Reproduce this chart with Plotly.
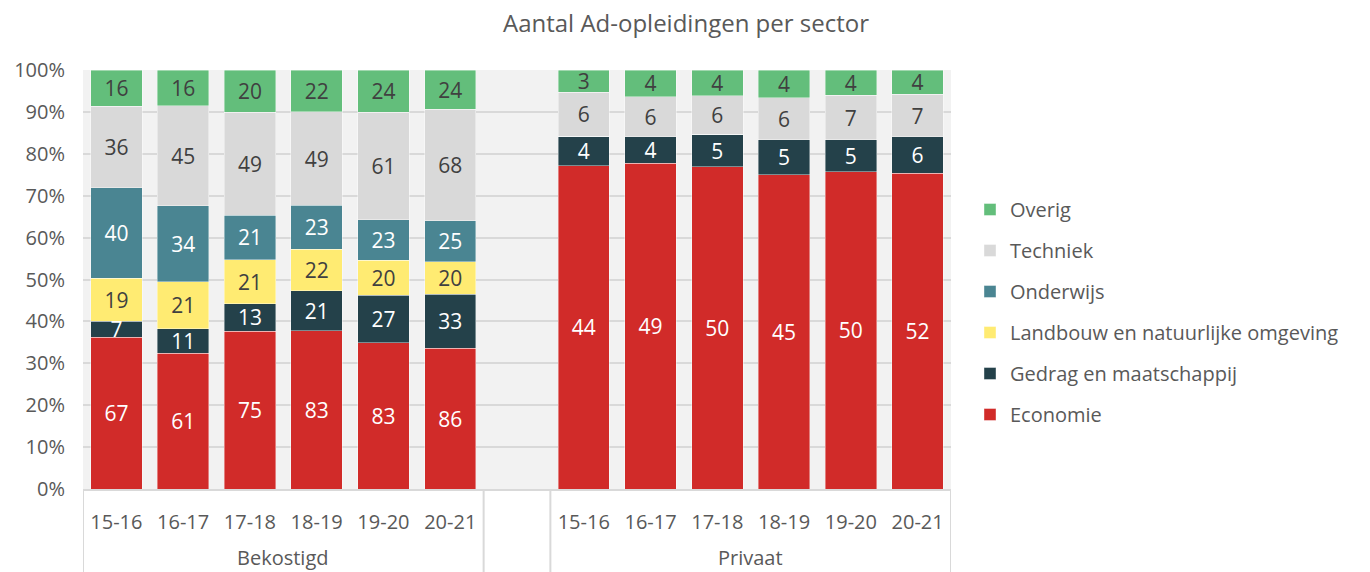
import plotly.graph_objects as go

groups = ["Bekostigd", "Privaat"]
years = ["15-16", "16-17", "17-18", "18-19", "19-20", "20-21"]

# counts per sector: Bekostigd (6 years) then Privaat (6 years)
economie = [67, 61, 75, 83, 83, 86] + [44, 49, 50, 45, 50, 52]
gedrag = [7, 11, 13, 21, 27, 33] + [4, 4, 5, 5, 5, 6]
landbouw = [19, 21, 21, 22, 20, 20] + [0, 0, 0, 0, 0, 0]
onderwijs = [40, 34, 21, 23, 23, 25] + [0, 0, 0, 0, 0, 0]
techniek = [36, 45, 49, 49, 61, 68] + [6, 6, 6, 6, 7, 7]
overig = [16, 16, 20, 22, 24, 24] + [3, 4, 4, 4, 4, 4]

series = [
    ("Economie", economie, "#D12B29", "white"),
    ("Gedrag en maatschappij", gedrag, "#24414A", "white"),
    ("Landbouw en natuurlijke omgeving", landbouw, "#FFEB72", "#404040"),
    ("Onderwijs", onderwijs, "#4A8592", "white"),
    ("Techniek", techniek, "#D9D9D9", "#404040"),
    ("Overig", overig, "#63BE7B", "#404040"),
]

FONT = "Open Sans"
FS = 20
n = len(years)
# positions: group 0 at 0..5, blank slot at 6, group 1 at 7..12
xpos = [g * (n + 1) + i for g in range(len(groups)) for i in range(n)]
xlabels = [y for g in groups for y in years]

fig = go.Figure()
for k, (name, vals, color, tcol) in enumerate(series):
    fig.add_trace(go.Bar(
        x=xpos, y=vals, name=name, legendgroup=name,
        legendrank=len(series) - k,
        marker=dict(color=color, line=dict(color="rgba(255,255,255,0.5)", width=0.8)),
        text=[str(v) if v else "" for v in vals],
        textposition="inside", insidetextanchor="middle", textangle=0,
        constraintext="none",
        textfont=dict(family=FONT, size=21, color=tcol),
        hoverinfo="skip",
    ))

OFF = 8  # page body margin
W, H = 1370 - OFF, 572 - OFF
L, R, T, B = 83 - OFF, 951 - OFF, 70 - OFF, 489 - OFF
fig.update_layout(
    width=W, height=H,
    margin=dict(l=L, r=W - R, t=T, b=H - B, autoexpand=False),
    barmode="stack", barnorm="percent", bargap=0.23,
    plot_bgcolor="#F2F2F2", paper_bgcolor="white",
    font=dict(family=FONT, color="#595959", size=FS),
    title=dict(text="Aantal Ad-opleidingen per sector", x=(686 - OFF) / W, xref="container",
               xanchor="center",
               y=1 - 7 / H, yref="container", yanchor="top",
               font=dict(family=FONT, size=24, color="#595959")),
    legend=dict(x=(962 - L) / (R - L), xanchor="left", y=1 - (182 - T) / (B - T), yanchor="top",
                traceorder="grouped", tracegroupgap=12,
                font=dict(family=FONT, size=FS, color="#595959"),
                itemwidth=30),
    showlegend=True,
)
fig.update_xaxes(
    range=[-0.5, len(groups) * (n + 1) - 1.5], automargin=False,
    tickmode="array", tickvals=xpos, ticktext=xlabels,
    tickfont=dict(family=FONT, size=FS, color="#595959"),
    showgrid=False, showline=True, linecolor="#D9D9D9", linewidth=2,
    ticks="", ticklabelstandoff=14, zeroline=False,
)
fig.update_yaxes(
    range=[0, 100], dtick=10, ticksuffix="%", automargin=False,
    tickfont=dict(family=FONT, size=FS, color="#595959"),
    gridcolor="#D9D9D9", gridwidth=2, zeroline=False, showline=False,
    ticks="", ticklabelstandoff=17,
)

# group dividers and group labels
bottom = -(H - B) / (B - T)
edges = [-0.5]
for g in range(len(groups)):
    start = g * (n + 1) - 0.5
    end = start + n
    edges += [start, end]
edges = sorted(set(edges + [len(groups) * (n + 1) - 1.5]))
for e in edges:
    fig.add_shape(type="line", xref="x", yref="paper", x0=e, x1=e, y0=0, y1=bottom,
                  line=dict(color="#D9D9D9", width=2))
for g, name in enumerate(groups):
    center = g * (n + 1) + (n - 1) / 2
    fig.add_annotation(x=center, xref="x", y=-(557 - OFF - B) / (B - T), yref="paper",
                       text=name, showarrow=False, yanchor="middle",
                       font=dict(family=FONT, size=FS, color="#595959"))

fig.write_html("out.html")
